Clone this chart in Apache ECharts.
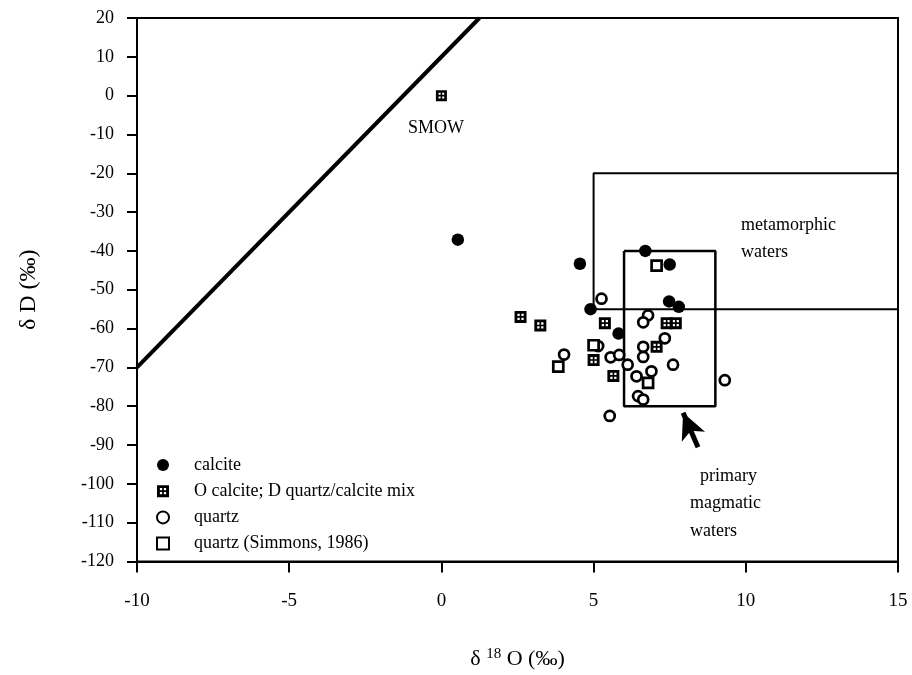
<!DOCTYPE html>
<html>
<head>
<meta charset="utf-8">
<script src="https://cdn.jsdelivr.net/npm/echarts@6/dist/echarts.min.js"></script>
<style>html,body{margin:0;padding:0;background:#fff}#c{width:912px;height:675px}</style>
</head>
<body>
<div id="c"></div>
<script>
// ---- data ----
const xTicks = [-10, -5, 0, 5, 10, 15];
const yTicks = [20, 10, 0, -10, -20, -30, -40, -50, -60, -70, -80, -90, -100, -110, -120];

const calciteX = [0.54, 4.55, 6.70, 7.50, 7.48, 7.80, 4.90, 5.82];
const calciteY = [-37.1, -43.3, -40.0, -43.5, -53.0, -54.4, -55.0, -61.3];

const mixX = [2.60, 3.25, 5.37, 7.40, 7.70, 5.00, 7.07, 5.65];
const mixY = [-57.0, -59.2, -58.6, -58.6, -58.6, -68.1, -64.7, -72.2];

const smowX = [0];
const smowY = [0];

const quartzX = [5.26, 6.79, 6.63, 7.34, 6.63, 6.63, 5.15, 5.56, 5.84, 6.12, 6.41, 6.90, 7.61, 6.46, 6.63, 9.31, 5.53, 4.03];
const quartzY = [-52.3, -56.6, -58.4, -62.5, -64.7, -67.3, -64.5, -67.4, -66.8, -69.3, -72.3, -71.0, -69.3, -77.4, -78.3, -73.3, -82.5, -66.7];

const simmonsX = [7.07, 6.79, 3.84, 5.00];
const simmonsY = [-43.8, -74.0, -69.8, -64.3];

// meteoric water line endpoints
const mwlX = [-10, 1.25];
const mwlY = [-70, 20];

// field outlines
const metaX = [15, 5, 5, 15];
const metaY = [-20, -20, -55, -55];
const primX = [6, 9, 9, 6, 6];
const primY = [-40, -40, -80, -80, -40];

// arrow (tail -> tip)
const arrowX = [8.43, 7.94];
const arrowY = [-90.6, -81.7];

const seriesNames = ['calcite', 'O calcite; D quartz/calcite mix', 'quartz', 'quartz (Simmons, 1986)'];

// ---- helpers ----
const zip = (xs, ys) => xs.map((x, i) => [x, ys[i]]);
const FONT = '"Liberation Serif", "DejaVu Serif", serif';
const hatched = 'path://M0,0 L10,0 L10,10 L0,10 Z M2.4,2.4 L2.4,4.3 L4.3,4.3 L4.3,2.4 Z M5.7,2.4 L5.7,4.3 L7.6,4.3 L7.6,2.4 Z M2.4,5.7 L2.4,7.6 L4.3,7.6 L4.3,5.7 Z M5.7,5.7 L5.7,7.6 L7.6,7.6 L7.6,5.7 Z';

const chart = echarts.init(document.getElementById('c'), null, {renderer: 'canvas'});

const option = {
  backgroundColor: '#fff',
  animation: false,
  grid: {left: 137, right: 14, top: 18, bottom: 108, show: true, borderColor: '#000', borderWidth: 2, backgroundColor: 'transparent'},
  xAxis: {
    type: 'value', min: xTicks[0], max: xTicks[xTicks.length - 1], interval: 5,
    axisLine: {show: true, onZero: false, lineStyle: {color: '#000', width: 2}},
    axisTick: {show: true, inside: false, length: 11, lineStyle: {color: '#000', width: 2}},
    splitLine: {show: false},
    axisLabel: {color: '#000', fontFamily: FONT, fontSize: 19, margin: 30},
    name: '{a|δ }{s|18}{a| O (‰)}',
    nameLocation: 'middle', nameGap: 85,
    nameTextStyle: {rich: {
      a: {fontFamily: FONT, fontSize: 22, color: '#000'},
      s: {fontFamily: FONT, fontSize: 15, color: '#000', verticalAlign: 'bottom', padding: [0, 0, 10, 0]}
    }}
  },
  yAxis: {
    type: 'value', min: yTicks[yTicks.length - 1], max: yTicks[0], interval: 10,
    axisLine: {show: true, onZero: false, lineStyle: {color: '#000', width: 2}},
    axisTick: {show: true, inside: false, length: 10, lineStyle: {color: '#000', width: 2}},
    splitLine: {show: false},
    axisLabel: {color: '#000', fontFamily: FONT, fontSize: 18, margin: 23},
    name: 'δ D (‰)', nameLocation: 'middle', nameGap: 96, nameRotate: 90,
    nameTextStyle: {fontFamily: FONT, fontSize: 24, color: '#000'}
  },
  legend: {
    data: seriesNames,
    orient: 'vertical', left: 151, top: 451,
    itemWidth: 12, itemHeight: 12, itemGap: 8.2,
    textStyle: {fontFamily: FONT, fontSize: 18, color: '#000', padding: [0, 0, 0, 20]},
    selectedMode: false
  },
  series: [
    {
      type: 'line', name: 'MWL', data: zip(mwlX, mwlY), symbol: 'none',
      lineStyle: {color: '#000', width: 4}, silent: true, z: 1
    },
    {
      type: 'line', name: 'metamorphic', data: zip(metaX, metaY), symbol: 'none',
      lineStyle: {color: '#000', width: 2}, silent: true, z: 1
    },
    {
      type: 'line', name: 'primary', data: zip(primX, primY), symbol: 'none',
      lineStyle: {color: '#000', width: 2.5}, silent: true, z: 1,
      markLine: {
        silent: true, animation: false,
        symbol: ['none', 'arrow'], symbolSize: [19, 26],
        lineStyle: {color: '#000', width: 5, type: 'solid'},
        label: {show: false},
        data: [[{coord: [arrowX[0], arrowY[0]]}, {coord: [arrowX[1], arrowY[1]]}]]
      }
    },
    {
      type: 'scatter', name: seriesNames[2], data: zip(quartzX, quartzY),
      symbol: 'circle', symbolSize: 10,
      itemStyle: {color: '#fff', borderColor: '#000', borderWidth: 2.7, opacity: 1}, z: 3
    },
    {
      type: 'scatter', name: seriesNames[3], data: zip(simmonsX, simmonsY),
      symbol: 'rect', symbolSize: 10,
      itemStyle: {color: '#fff', borderColor: '#000', borderWidth: 2.7, opacity: 1}, z: 3
    },
    {
      type: 'scatter', name: seriesNames[1], data: zip(mixX, mixY),
      symbol: hatched, symbolSize: 12,
      itemStyle: {color: '#000', opacity: 1}, z: 4
    },
    {
      type: 'scatter', name: 'SMOW', data: zip(smowX, smowY),
      symbol: hatched, symbolSize: 11,
      itemStyle: {color: '#000', opacity: 1}, z: 4
    },
    {
      type: 'scatter', name: seriesNames[0], data: zip(calciteX, calciteY),
      symbol: 'circle', symbolSize: 12.5,
      itemStyle: {color: '#000', opacity: 1}, z: 5
    }
  ],
  graphic: [
    {type: 'text', left: 408, top: 119, style: {text: 'SMOW', font: '18px ' + FONT, fill: '#000'}},
    {type: 'text', left: 741, top: 216, style: {text: 'metamorphic', font: '18px ' + FONT, fill: '#000'}},
    {type: 'text', left: 741, top: 243, style: {text: 'waters', font: '18px ' + FONT, fill: '#000'}},
    {type: 'text', left: 700, top: 467, style: {text: 'primary', font: '18px ' + FONT, fill: '#000'}},
    {type: 'text', left: 690, top: 494, style: {text: 'magmatic', font: '18px ' + FONT, fill: '#000'}},
    {type: 'text', left: 690, top: 522, style: {text: 'waters', font: '18px ' + FONT, fill: '#000'}}
  ]
};
chart.setOption(option);
</script>
</body>
</html>
